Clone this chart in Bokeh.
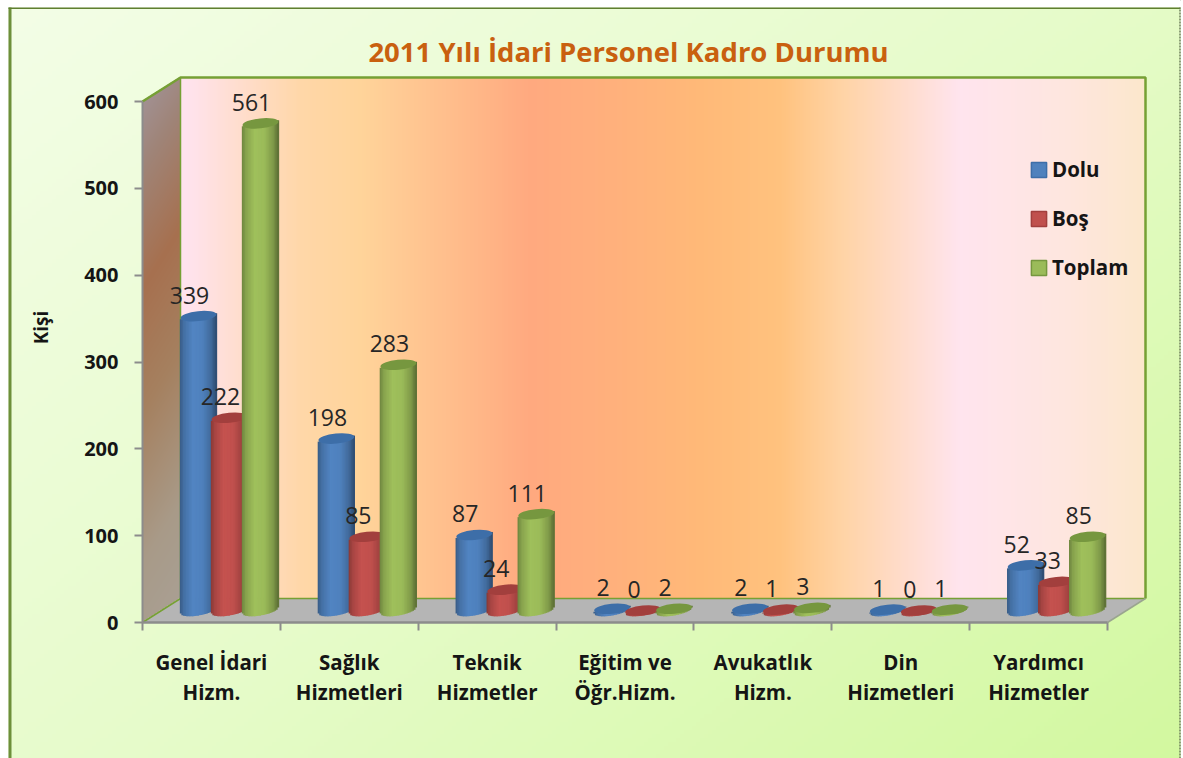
import numpy as np
from bokeh.core.properties import value
from bokeh.embed import file_html
from bokeh.models import ColumnDataSource, FixedTicker, Label, Legend, LegendItem, LinearAxis, Range1d
from bokeh.plotting import figure
from bokeh.resources import INLINE

# ---- data -----------------------------------------------------------------
title_text = "2011 Yılı İdari Personel Kadro Durumu"
y_label = "Kişi"
categories = ["Genel İdari\nHizm.", "Sağlık\nHizmetleri", "Teknik\nHizmetler", "Eğitim ve\nÖğr.Hizm.",
              "Avukatlık\nHizm.", "Din\nHizmetleri", "Yardımcı\nHizmetler"]
series_names = ["Dolu", "Boş", "Toplam"]
dolu = [339, 198, 87, 2, 2, 1, 52]
bos = [222, 85, 24, 0, 1, 0, 33]
toplam = [561, 283, 111, 2, 3, 1, 85]
y_ticks = [0, 100, 200, 300, 400, 500, 600]

# ---- layout ---------------------------------------------------------------
W, H = 1181, 758
LEFT, RIGHT = 142.0, 1107.0
ZERO, SIX = 622.0, 101.0
sx = (RIGHT - LEFT) / 7
sy = (ZERO - SIX) / 600
def px_x(d): return d / sx
def px_y(d): return d / sy
X0 = -LEFT / sx
X1 = (W - LEFT) / sx
Y1 = ZERO / sy
Y0 = (ZERO - H) / sy
DX, DY = px_x(38), px_y(24)
BASE = px_y(12)

p = figure(width=W, height=H, output_backend="svg", toolbar_location=None,
           x_range=Range1d(X0, X1), y_range=Range1d(Y0, Y1),
           x_axis_location=None, y_axis_location=None, min_border=0,
           border_fill_color="white", outline_line_color=None, background_fill_color="white")
p.grid.visible = False


def hexrgb(h):
    return np.array([int(h[i:i + 2], 16) for i in (1, 3, 5)], dtype=float)


def to_img(rgb, alpha=None):
    h, w = rgb.shape[:2]
    a = np.full((h, w), 255.0) if alpha is None else alpha
    out = np.dstack([rgb, a]).round().astype(np.uint8)
    return out.view(dtype=np.uint32).reshape(h, w)


# page gradient (diagonal), row 0 of the image is the bottom
PX0, PY1 = px_x(8 - LEFT), px_y(ZERO - 7)
gh, gw = 188, 293
gy, gx = np.mgrid[0:gh, 0:gw]
t = (gx / gw * 0.55 + (gh - 1 - gy) / gh * 0.45)
c0, c1, c2 = hexrgb("#f3fde6"), hexrgb("#e6fbca"), hexrgb("#d2f89f")
page = np.where((t < .5)[..., None],
                c0 + (c1 - c0) * (t / .5)[..., None],
                c1 + (c2 - c1) * ((t - .5) / .5)[..., None])
p.image_rgba(image=[to_img(page)], x=[PX0], y=[Y0], dw=[px_x(1180 - 8)], dh=[PY1 - Y0])

# back wall gradient
stops_x = np.array([0, 12, 120, 180, 350, 430, 520, 600, 660, 780, 890, 965])
stops_c = ["#ffe2ee", "#ffe2ea", "#ffd7a8", "#ffd49a", "#ffa97f", "#ffb07c", "#ffb978", "#ffc27e", "#ffd3a4",
           "#ffe4ee", "#fee6de", "#fce7cc"]
ramp_c = np.array([hexrgb(c) for c in stops_c])
xs = np.linspace(0, 965, 483)
wall = np.dstack([np.interp(xs, stops_x, ramp_c[:, i]) for i in range(3)])
p.image_rgba(image=[to_img(np.repeat(wall, 2, axis=0))], x=[DX], y=[DY], dw=[7], dh=[600])

# side wall gradient, parallelogram via alpha
sh, sw = 546, 38
yy, xx = np.mgrid[0:sh, 0:sw]
inside = ((yy >= (xx + .5) * 24 / 38) & (yy <= (xx + .5) * 24 / 38 + 521)).astype(float) * 255
u = ((yy) / sh * 0.9 + (1 - xx / sw) * 0.1)
sc = [hexrgb(c) for c in ["#a9a095", "#a89a88", "#a5805f", "#a6704f", "#9f8478", "#a2959c"]]
sp = np.array([0, .2, .45, .65, .85, 1])
side = np.dstack([np.interp(u, sp, [c[i] for c in sc]) for i in range(3)])
p.image_rgba(image=[to_img(side, inside)], x=[0], y=[0], dw=[DX], dh=[px_y(sh)])

# floor
p.patch([0, 7, 7 + DX, DX], [0, 0, DY, DY], fill_color="#b5b5b5", line_color=None)
# wall borders
GREEN = "#76a034"
p.line([0, DX, 7 + DX, 7 + DX], [600, 600 + DY, 600 + DY, DY], line_color=GREEN, line_width=2.5)
p.line([DX, DX], [DY, 600 + DY], line_color=GREEN, line_width=1.5)
p.line([0, DX, 7 + DX], [0, DY, DY], line_color=GREEN, line_width=1.5)
p.line([7, 7 + DX], [0, DY], line_color="#9aa58f", line_width=1.5)

# outer frame
FR = "#6d8f3a"
p.line([px_x(9.5 - LEFT)] * 2, [Y0, PY1], line_color=FR, line_width=3)
p.line([PX0, px_x(1180 - LEFT)], [PY1 - px_y(.75)] * 2, line_color="#5f7f30", line_width=1.5)
p.line([px_x(1179.5 - LEFT)] * 2, [Y0, PY1], line_color="#6e7f5a", line_width=1.5, line_dash="2 1")

# cylinders
centers = [px_x(56), px_x(87), px_x(118)]
BW = 35.0
EH = 10.0
TILT = 3.0
strip_u = np.linspace(-1, 1, 24)
shade_u = [-1, -.8, -.3, .25, .75, 1]
shade_f = [.74, .88, 1.03, 1.0, .82, .62]
fills = ["#4f81bd", "#c0504d", "#9bbb59"]
tops = ["#3d6ea8", "#a23f3d", "#76973f"]
series = [dolu, bos, toplam]
for g in range(7):
    for s in range(3):
        v, base_c = series[s][g], hexrgb(fills[s])
        cx = g + centers[s]
        for k in strip_u:
            f = np.interp(k, shade_u, shade_f)
            col = "#%02x%02x%02x" % tuple(np.clip(base_c * f, 0, 255).astype(int))
            lift = px_y(TILT) * k
            bottom = BASE + lift - px_y(EH / 2) * np.sqrt(max(0, 1 - k * k))
            top = v + BASE + lift
            if top > bottom:
                p.vbar(x=[cx + px_x(k * BW / 2)], width=px_x(BW / 23 + .8), bottom=[bottom], top=[top],
                       fill_color=col, line_color=None)
        p.ellipse(x=[cx], y=[v + BASE], width=[BW + 1], height=[EH], angle=[0.1],
                  width_units="screen", height_units="screen",
                  fill_color=tops[s], line_color=None)

# value labels
for s in range(3):
    src = ColumnDataSource(dict(x=[g + centers[s] for g in range(7)],
                                y=[v + BASE for v in series[s]],
                                t=[str(v) for v in series[s]]))
    p.text("x", "y", text="t", source=src, text_font=value("Open Sans"), text_font_size="23px",
           text_color="#262626", text_align="center", text_baseline="middle", x_offset=-9, y_offset=-21)

p.text([px_x(40 - LEFT)], [px_y(ZERO - 327)], text=[y_label], angle=[np.pi / 2], text_font=value("Open Sans"),
       text_font_size="19px", text_font_style="bold", text_color="#151515", text_align="center",
       text_baseline="middle")

# axes
AX = "#8c8c8c"
ya = LinearAxis(fixed_location=0, bounds=(0, 600), ticker=FixedTicker(ticks=y_ticks))
ya.axis_line_color = AX
ya.axis_line_width = 2
ya.major_tick_line_color = AX
ya.major_tick_line_width = 2
ya.major_tick_out = 8
ya.major_tick_in = 0
ya.minor_tick_line_color = None
ya.major_label_standoff = 16
ya.major_label_text_font = "Open Sans"
ya.major_label_text_font_style = "bold"
ya.major_label_text_font_size = "20px"
ya.major_label_text_color = "#151515"
p.add_layout(ya, "left")

mids = [i + .5 for i in range(7)]
xa = LinearAxis(fixed_location=0, bounds=(0, 7),
                ticker=FixedTicker(ticks=mids, minor_ticks=list(range(8))))
xa.major_label_overrides = {m: c for m, c in zip(mids, categories)}
xa.axis_line_color = AX
xa.axis_line_width = 2.5
xa.major_tick_line_color = None
xa.major_tick_out = 0
xa.major_tick_in = 0
xa.minor_tick_line_color = AX
xa.minor_tick_line_width = 2
xa.minor_tick_out = 8
xa.minor_tick_in = 0
xa.major_label_standoff = 17
xa.major_label_text_font = "Open Sans"
xa.major_label_text_font_style = "bold"
xa.major_label_text_font_size = "20.5px"
xa.major_label_text_color = "#151515"
xa.major_label_text_line_height = 1.1
p.add_layout(xa, "below")

# legend (its renderers hold one point placed out of view)
items = []
for name, col, tc in zip(series_names, fills, tops):
    r = p.vbar(x=[X1 + 50], width=1, bottom=[Y1 + 500], top=[Y1 + 501], fill_color=col, line_color=tc, line_width=1.5)
    items.append(LegendItem(label=name, renderers=[r]))
leg = Legend(items=items, location=(1029, H - 281), orientation="vertical", spacing=21, padding=0, margin=0,
             glyph_width=19, glyph_height=19, label_standoff=4, background_fill_alpha=0, border_line_color=None,
             label_text_font="Open Sans", label_text_font_style="bold", label_text_font_size="20.5px",
             label_text_color="#151515")
p.add_layout(leg, "center")

# title
p.add_layout(Label(x=628, y=H - 50.5, x_units="screen", y_units="screen", text=title_text,
                   text_font="Open Sans", text_font_style="bold", text_font_size="27.5px",
                   text_color="#c9600f", text_align="center", text_baseline="middle"))

open("out.html", "w").write(file_html(p, INLINE))
